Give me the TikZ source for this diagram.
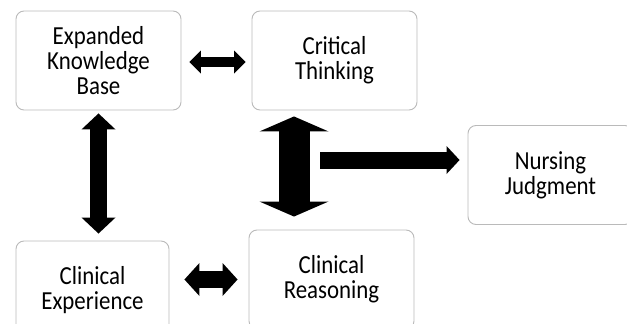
\documentclass[tikz,border=0pt]{standalone}
\usepackage{fontspec}
\setmainfont{Carlito}[FakeStretch=0.88]
\usetikzlibrary{arrows.meta}
\tikzset{
  box/.style={rectangle, rounded corners=8pt, draw=black!27, line width=0.9pt, fill=white,
    align=center, inner sep=0pt, minimum width=165pt, minimum height=99pt,
    font=\fontsize{26}{25}\selectfont},
  link/.style n args={3}{line width=#1, -{Triangle[length=#3, width=#2, line width=0pt]}},
  dlink/.style n args={3}{line width=#1,
    {Triangle[length=#3, width=#2, line width=0pt]}-{Triangle[length=#3, width=#2, line width=0pt]}},
}
\begin{document}
\begin{tikzpicture}[x=1pt, y=-1pt]
		    \useasboundingbox (0, 0) rectangle (627, 324);
		    \clip (0, 0) rectangle (627, 324);
		    \node (know) at (98.5, 60.5) [box] {Expanded\\Knowledge\\Base};
		    \node (think) at (334.5, 60.5) [box] {Critical\\Thinking};
		    \node (judge) at (550.5, 175) [box] {Nursing\\Judgment};
		    \node (exper) at (92.5, 290.5) [box, minimum width=153pt] {Clinical\\Experience};
		    \node (reason) at (331.5, 279.5) [box] {Clinical\\Reasoning};
		    \coordinate (hub) at (320, 160);
		    
		    \draw[dlink={10pt}{23pt}{11.5pt}, shorten <=8pt, shorten >=6pt] ([yshift=-1.5pt]know.east) -- ([yshift=-1.5pt]think.west);
		    \draw[dlink={17pt}{34pt}{16pt}, shorten <=3pt, shorten >=7pt] (know.south) -- (know.south |- exper.north);
		    \draw[dlink={31pt}{69pt}{15pt}, shorten <=6pt, shorten >=13pt] ([xshift=-40.5pt]think.south) -- ([xshift=-40.5pt]think.south |- reason.north);
		    \draw[link={17pt}{28pt}{13pt}, shorten >=8pt] (hub) -- (hub -| judge.west);
		    \draw[dlink={17pt}{33pt}{15pt}, shorten <=15pt, shorten >=11pt] (reason.west -| exper.east) -- (reason.west);
		\end{tikzpicture}
\end{document}
